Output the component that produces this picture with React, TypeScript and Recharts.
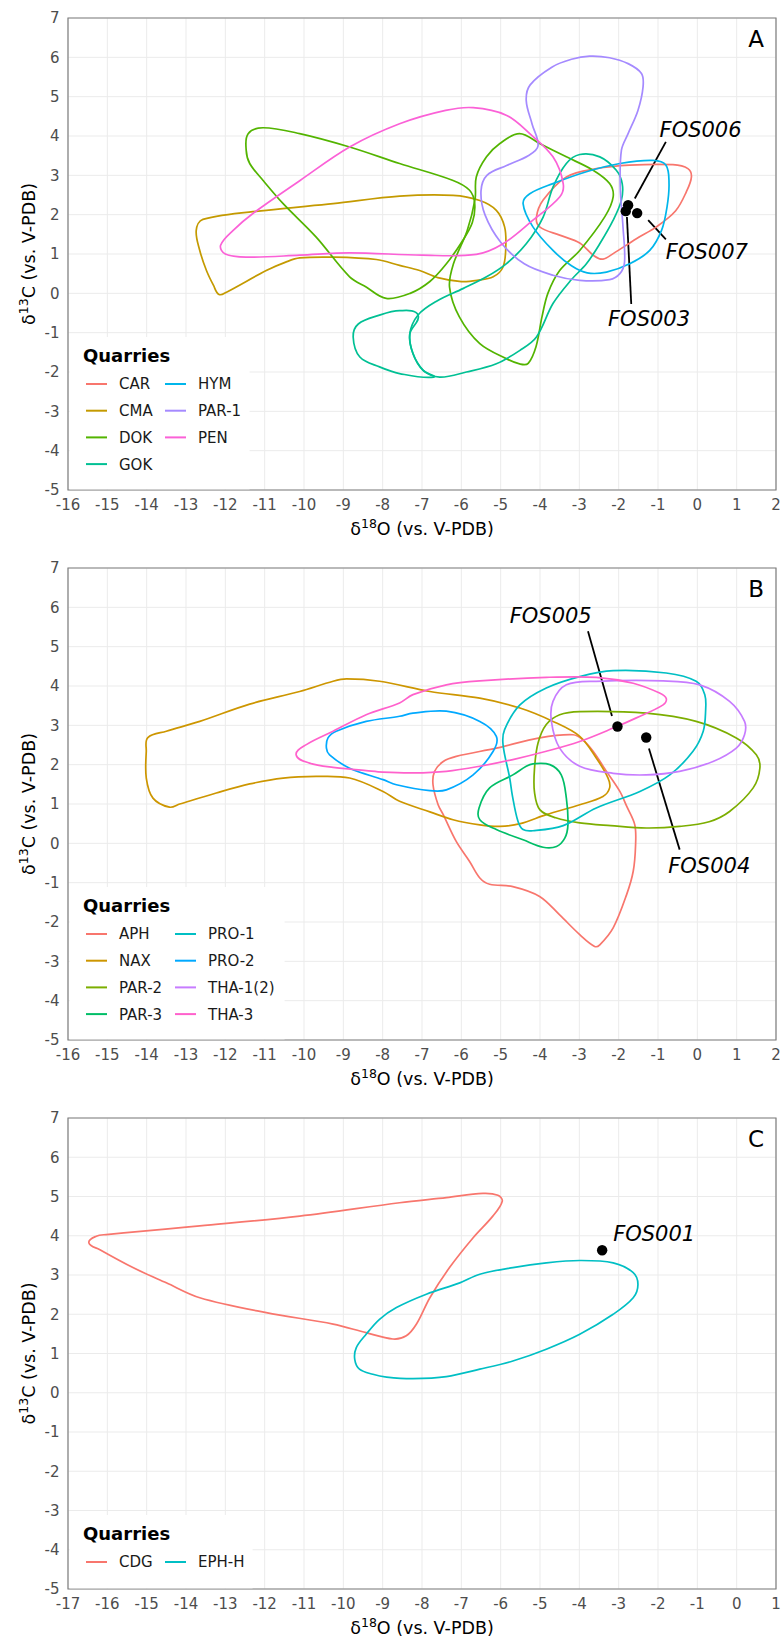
import React from 'react'
import {
  ScatterChart,
  Scatter,
  XAxis,
  YAxis,
  CartesianGrid,
  ReferenceLine,
  ReferenceArea,
} from 'recharts'

type Pt = [number, number]

// ---------- Panel A ----------
const A_NAMES = ['CAR', 'CMA', 'DOK', 'GOK', 'HYM', 'PAR-1', 'PEN']
const A_COLORS = ['#F8766D', '#C49A00', '#53B400', '#00C094', '#00B6EB', '#A58AFF', '#FB61D7']

const A_CAR: Pt[] = [
  [-4.09, 1.94], [-3.92, 2.37], [-3.33, 2.96], [-2.57, 3.17], [-1.72, 3.26], [-0.62, 3.27],
  [-0.24, 3.17], [-0.15, 2.96], [-0.28, 2.58], [-0.55, 2.1], [-1.04, 1.69], [-1.55, 1.39],
  [-2.14, 1.01], [-2.4, 0.87], [-2.62, 0.95], [-2.99, 1.28], [-3.5, 1.48], [-4.01, 1.69],
]
const A_CMA: Pt[] = [
  [-12.57, 1.88], [-10.96, 2.11], [-9.26, 2.28], [-7.57, 2.47], [-6.21, 2.49], [-5.53, 2.36],
  [-5.11, 2.11], [-4.9, 1.69], [-4.87, 1.18], [-4.94, 0.67], [-5.19, 0.42], [-5.6, 0.33],
  [-6.0, 0.3], [-6.6, 0.4], [-7.06, 0.58], [-7.57, 0.71], [-8.16, 0.86], [-9.26, 0.92],
  [-10.11, 0.9], [-10.45, 0.8], [-10.96, 0.58], [-11.97, 0.03], [-12.16, -0.03], [-12.3, 0.2],
  [-12.48, 0.58], [-12.65, 1.09], [-12.74, 1.6],
]
const A_DOK_W: Pt[] = [
  [-11.04, 4.21], [-10.11, 4.06], [-8.84, 3.72], [-7.57, 3.3], [-6.21, 2.87], [-5.79, 2.62],
  [-5.66, 2.28], [-5.72, 1.8], [-5.96, 1.35], [-6.38, 0.75], [-6.8, 0.3], [-7.3, 0.0],
  [-7.91, -0.13], [-8.42, 0.16], [-8.84, 0.42], [-9.69, 1.43], [-10.53, 2.28], [-11.04, 2.87],
  [-11.38, 3.3], [-11.47, 3.64], [-11.42, 4.06],
]
const A_DOK_E: Pt[] = [
  [-4.52, 4.06], [-4.01, 3.81], [-3.33, 3.47], [-2.65, 3.13], [-2.23, 2.79], [-2.14, 2.45],
  [-2.35, 1.95], [-2.99, 1.09], [-3.5, 0.58], [-3.8, 0.0], [-3.95, -0.6], [-4.1, -1.35],
  [-4.3, -1.78], [-4.5, -1.8], [-4.86, -1.66], [-5.53, -1.28], [-6.05, -0.6], [-6.3, 0.16],
  [-6.2, 0.75], [-5.85, 1.6], [-5.65, 2.4], [-5.62, 2.96], [-5.36, 3.47], [-5.02, 3.81],
]
const A_GOK_1: Pt[] = [
  [-2.99, 3.53], [-2.48, 3.47], [-2.06, 3.13], [-1.91, 2.79], [-1.93, 2.37], [-2.14, 1.86],
  [-2.48, 1.26], [-2.82, 0.75], [-3.2, 0.35], [-3.67, -0.26], [-4.09, -1.11], [-4.51, -1.45],
  [-5.11, -1.79], [-5.87, -2.0], [-6.55, -2.13], [-6.97, -1.96], [-7.23, -1.53], [-7.31, -1.03],
  [-7.1, -0.55], [-6.63, -0.2], [-5.96, 0.12], [-5.36, 0.42], [-4.86, 0.75], [-4.35, 1.26],
  [-3.92, 1.94], [-3.67, 2.7], [-3.33, 3.3],
]
const A_GOK_2: Pt[] = [
  [-8.75, -1.11], [-8.62, -0.78], [-8.1, -0.56], [-7.57, -0.44], [-7.1, -0.55], [-7.31, -1.03],
  [-7.23, -1.53], [-6.97, -1.96], [-6.7, -2.13], [-7.57, -2.04], [-8.08, -1.87], [-8.58, -1.62],
]
const A_HYM: Pt[] = [
  [-4.43, 2.28], [-4.26, 2.53], [-3.67, 2.79], [-2.82, 3.09], [-1.97, 3.3], [-1.13, 3.38],
  [-0.8, 3.26], [-0.72, 2.79], [-0.77, 2.2], [-0.91, 1.6], [-1.21, 1.09], [-1.72, 0.75],
  [-2.31, 0.54], [-2.8, 0.52], [-3.2, 0.7], [-3.67, 1.09], [-4.18, 1.69],
]
const A_PAR1: Pt[] = [
  [-2.74, 6.03], [-2.23, 5.99], [-1.76, 5.84], [-1.42, 5.59], [-1.38, 5.25], [-1.51, 4.65],
  [-1.76, 4.06], [-1.93, 3.64], [-1.96, 2.7], [-1.89, 1.69], [-1.85, 0.8], [-1.97, 0.5],
  [-2.23, 0.35], [-2.99, 0.33], [-3.67, 0.46], [-4.4, 0.75], [-5.0, 1.3], [-5.4, 2.0],
  [-5.5, 2.6], [-5.35, 3.0], [-4.85, 3.25], [-4.3, 3.5], [-4.05, 3.75], [-4.2, 4.3],
  [-4.35, 4.9], [-4.25, 5.3], [-3.7, 5.75], [-3.2, 5.95],
]
const A_PEN: Pt[] = [
  [-12.12, 1.22], [-11.8, 1.6], [-11.3, 2.03], [-10.1, 2.87], [-8.84, 3.72], [-7.57, 4.31],
  [-6.4, 4.65], [-5.7, 4.72], [-4.86, 4.53], [-4.26, 4.06], [-3.67, 3.47], [-3.41, 2.79],
  [-3.5, 2.45], [-4.18, 1.86], [-4.94, 1.26], [-5.62, 0.99], [-7.0, 0.97], [-8.84, 1.03],
  [-10.11, 0.97], [-11.47, 0.92], [-12.0, 1.0],
]
const A_SHAPES: Pt[][][] = [[A_CAR], [A_CMA], [A_DOK_W, A_DOK_E], [A_GOK_2, A_GOK_1], [A_HYM], [A_PAR1], [A_PEN]]

const A_SAMPLES = ['FOS006', 'FOS003', 'FOS007']
const A_SAMPLE_O = [-1.76, -1.82, -1.53]
const A_SAMPLE_C = [2.24, 2.09, 2.04]
const A_LABEL_O = [-0.96, -2.27, -0.8]
const A_LABEL_C = [4.17, -0.63, 1.06]
const A_LEADERS: Pt[][] = [
  [[-1.59, 2.41], [-0.8, 3.85]],
  [[-1.79, 1.94], [-1.68, -0.27]],
  [[-1.25, 1.86], [-0.8, 1.37]],
]

// ---------- Panel B ----------
const B_NAMES = ['APH', 'NAX', 'PAR-2', 'PAR-3', 'PRO-1', 'PRO-2', 'THA-1(2)', 'THA-3']
const B_COLORS = ['#F8766D', '#CD9600', '#7CAE00', '#00BE67', '#00BFC4', '#00A9FF', '#C77CFF', '#FF61CC']

const B_APH: Pt[] = [
  [-3.16, 2.76], [-4.01, 2.68], [-5.11, 2.42], [-6.13, 2.21], [-6.46, 2.08], [-6.68, 1.83],
  [-6.72, 1.49], [-6.59, 0.98], [-6.46, 0.73], [-6.13, 0.05], [-5.79, -0.46], [-5.53, -0.88],
  [-5.28, -1.04], [-4.69, -1.1], [-4.01, -1.35], [-3.5, -1.82], [-2.99, -2.32], [-2.61, -2.62],
  [-2.48, -2.58], [-2.14, -2.15], [-1.8, -1.31], [-1.63, -0.71], [-1.57, -0.04], [-1.59, 0.47],
  [-1.8, 0.95], [-1.97, 1.32], [-2.31, 1.83], [-2.65, 2.34], [-2.91, 2.63],
]
const B_NAX: Pt[] = [
  [-13.97, 2.69], [-13.5, 2.85], [-12.65, 3.1], [-11.38, 3.54], [-10.11, 3.86], [-9.26, 4.12],
  [-8.92, 4.18], [-8.08, 4.12], [-6.8, 3.86], [-5.53, 3.69], [-4.51, 3.44], [-3.67, 3.1],
  [-2.99, 2.72], [-2.57, 2.17], [-2.27, 1.66], [-2.23, 1.41], [-2.4, 1.19], [-2.99, 0.98],
  [-3.84, 0.73], [-4.5, 0.5], [-5.02, 0.43], [-5.53, 0.47], [-6.21, 0.6], [-6.8, 0.8],
  [-7.57, 1.07], [-7.99, 1.32], [-8.84, 1.66], [-9.69, 1.7], [-10.53, 1.66], [-11.38, 1.51],
  [-12.23, 1.28], [-13.16, 1.0], [-13.42, 0.92], [-13.84, 1.15], [-14.01, 1.66], [-14.01, 2.34],
]
const B_PAR2: Pt[] = [
  [-2.99, 3.35], [-1.3, 3.31], [-0.03, 3.1], [0.99, 2.68], [1.5, 2.25], [1.59, 1.91],
  [1.42, 1.41], [0.82, 0.81], [0.3, 0.55], [-0.45, 0.43], [-1.3, 0.39], [-2.2, 0.45],
  [-2.99, 0.52], [-3.6, 0.65], [-4.0, 0.85], [-4.14, 1.3], [-4.14, 1.9], [-4.05, 2.55],
  [-3.84, 3.02], [-3.5, 3.27],
]
const B_PAR3: Pt[] = [
  [-4.18, 2.02], [-3.75, 2.0], [-3.46, 1.74], [-3.33, 1.15], [-3.29, 0.47], [-3.37, 0.13],
  [-3.58, -0.08], [-3.92, -0.1], [-4.43, 0.09], [-5.11, 0.35], [-5.53, 0.6], [-5.55, 0.9],
  [-5.28, 1.41], [-4.69, 1.74], [-4.35, 1.96],
]
const B_PRO1: Pt[] = [
  [-2.14, 4.39], [-0.79, 4.33], [-0.03, 4.12], [0.19, 3.78], [0.21, 3.36], [0.15, 2.85],
  [-0.11, 2.34], [-0.7, 1.74], [-1.46, 1.32], [-2.57, 0.9], [-3.41, 0.45], [-4.18, 0.32],
  [-4.43, 0.35], [-4.56, 0.56], [-4.7, 1.2], [-4.77, 1.66], [-4.94, 2.51], [-4.9, 2.89],
  [-4.51, 3.52], [-3.84, 3.95], [-2.99, 4.24],
]
const B_PRO2: Pt[] = [
  [-9.43, 2.42], [-9.39, 2.68], [-9.18, 2.85], [-8.42, 3.1], [-7.57, 3.23], [-7.23, 3.31],
  [-6.38, 3.36], [-5.53, 3.1], [-5.11, 2.72], [-5.19, 2.34], [-5.7, 1.74], [-6.38, 1.36],
  [-6.8, 1.34], [-7.65, 1.49], [-7.99, 1.62], [-8.84, 1.91], [-9.35, 2.25],
]
const B_THA12: Pt[] = [
  [-3.33, 4.03], [-2.57, 4.12], [-0.87, 4.13], [0.06, 4.03], [0.82, 3.61], [1.2, 3.1],
  [1.2, 2.76], [0.99, 2.42], [0.4, 2.08], [-0.45, 1.83], [-1.3, 1.74], [-2.14, 1.78],
  [-2.99, 1.96], [-3.5, 2.42], [-3.71, 3.1], [-3.67, 3.61],
]
const B_THA3: Pt[] = [
  [-10.2, 2.25], [-9.94, 2.51], [-9.26, 2.85], [-8.42, 3.27], [-7.57, 3.57], [-7.23, 3.78],
  [-6.38, 4.03], [-5.53, 4.13], [-3.84, 4.22], [-2.57, 4.22], [-1.63, 4.07], [-0.96, 3.82],
  [-0.79, 3.68], [-0.87, 3.52], [-1.55, 3.19], [-2.14, 2.93], [-2.99, 2.59], [-3.84, 2.34],
  [-4.69, 2.13], [-5.53, 1.96], [-6.38, 1.83], [-7.23, 1.79], [-8.0, 1.81], [-8.42, 1.85],
  [-9.26, 1.93], [-9.86, 2.04],
]
const B_SHAPES: Pt[][][] = [[B_APH], [B_NAX], [B_PAR2], [B_PAR3], [B_PRO1], [B_PRO2], [B_THA12], [B_THA3]]

const B_SAMPLES = ['FOS005', 'FOS004']
const B_SAMPLE_O = [-2.03, -1.3]
const B_SAMPLE_C = [2.97, 2.69]
const B_LABEL_O = [-4.77, -0.74]
const B_LABEL_C = [5.79, -0.57]
const B_LEADERS: Pt[][] = [
  [[-2.17, 3.24], [-2.78, 5.39]],
  [[-1.23, 2.41], [-0.45, -0.16]],
]

// ---------- Panel C ----------
const C_NAMES = ['CDG', 'EPH-H']
const C_COLORS = ['#F8766D', '#00BFC4']

const C_CDG: Pt[] = [
  [-16.47, 3.82], [-16.28, 3.99], [-16.03, 4.03], [-13.65, 4.25], [-11.11, 4.5], [-8.57, 4.84],
  [-7.38, 4.97], [-6.45, 5.08], [-6.07, 5.03], [-5.96, 4.88], [-6.2, 4.5], [-6.7, 3.95],
  [-7.3, 3.19], [-7.8, 2.42], [-8.14, 1.75], [-8.4, 1.45], [-8.74, 1.37], [-9.42, 1.53],
  [-10.26, 1.75], [-11.96, 2.04], [-13.65, 2.42], [-14.5, 2.8], [-15.35, 3.19], [-16.2, 3.65],
]
const C_EPH: Pt[] = [
  [-3.99, 3.37], [-3.14, 3.31], [-2.63, 3.06], [-2.51, 2.76], [-2.63, 2.42], [-3.14, 2.0],
  [-3.99, 1.49], [-4.84, 1.11], [-5.69, 0.81], [-6.53, 0.6], [-7.38, 0.41], [-8.23, 0.36],
  [-8.9, 0.4], [-9.25, 0.47], [-9.59, 0.6], [-9.71, 0.85], [-9.67, 1.15], [-9.42, 1.49],
  [-9.08, 1.87], [-8.65, 2.17], [-7.89, 2.51], [-7.04, 2.8], [-6.53, 3.02], [-5.69, 3.19],
  [-4.84, 3.31],
]
const C_SHAPES: Pt[][][] = [[C_CDG], [C_EPH]]

const C_SAMPLES = ['FOS001']
const C_SAMPLE_O = [-3.42]
const C_SAMPLE_C = [3.63]
const C_LABEL_O = [-3.14]
const C_LABEL_C = [4.07]
const C_LEADERS: Pt[][] = []

const Y_TICKS = [-5, -4, -3, -2, -1, 0, 1, 2, 3, 4, 5, 6, 7]
const AB_X_TICKS = [-16, -15, -14, -13, -12, -11, -10, -9, -8, -7, -6, -5, -4, -3, -2, -1, 0, 1, 2]
const C_X_TICKS = [-17, -16, -15, -14, -13, -12, -11, -10, -9, -8, -7, -6, -5, -4, -3, -2, -1, 0, 1]

const FONT = 'DejaVu Sans'
const W = 782
const PLOT_TOP = 18
const Y_AXIS_W = 68

// smooth closed curve through the points (tangent scaled by segment length)
function smoothClosed(context: any) {
  let pts: number[][] = []
  return {
    areaStart() {},
    areaEnd() {},
    lineStart() {
      pts = []
    },
    point(x: number, y: number) {
      pts.push([+x, +y])
    },
    lineEnd() {
      const n = pts.length
      if (!n) return
      const tan = (i: number) => {
        const a = pts[(i - 1 + n) % n]
        const b = pts[(i + 1) % n]
        const dx = b[0] - a[0]
        const dy = b[1] - a[1]
        const l = Math.hypot(dx, dy) || 1
        return [dx / l, dy / l]
      }
      context.moveTo(pts[0][0], pts[0][1])
      for (let i = 0; i < n; i++) {
        const p1 = pts[i]
        const p2 = pts[(i + 1) % n]
        const d = Math.hypot(p2[0] - p1[0], p2[1] - p1[1]) / 3
        const t1 = tan(i)
        const t2 = tan((i + 1) % n)
        context.bezierCurveTo(
          p1[0] + t1[0] * d,
          p1[1] + t1[1] * d,
          p2[0] - t2[0] * d,
          p2[1] - t2[1] * d,
          p2[0],
          p2[1]
        )
      }
      context.closePath()
    },
  }
}

interface PanelProps {
  height: number
  xAxisH: number
  xTicks: number[]
  names: string[]
  colors: string[]
  shapes: Pt[][][]
  samples: string[]
  sampleO: number[]
  sampleC: number[]
  labelO: number[]
  labelC: number[]
  leaders: Pt[][]
  letter: string
  legendTop: number
  legendW: number
  legendRows: number
  colStep: number
}

function Panel(p: PanelProps) {
  const plotBottom = p.height - p.xAxisH
  const xMin = p.xTicks[0]
  const xMax = p.xTicks[p.xTicks.length - 1]
  const plotCx = (Y_AXIS_W + W - 6) / 2
  const plotCy = (PLOT_TOP + plotBottom) / 2

  const dots = p.samples.map((s, i) => ({ x: p.sampleO[i], y: p.sampleC[i], name: s }))
  const labels = p.samples.map((s, i) => ({ x: p.labelO[i], y: p.labelC[i], name: s }))

  return (
    <div style={{ position: 'relative', width: W, height: p.height }}>
      <ScatterChart
        width={W}
        height={p.height}
        margin={{ top: PLOT_TOP, right: 6, bottom: 0, left: 0 }}
      >
        <CartesianGrid stroke="#EBEBEB" strokeWidth={1} />
        <XAxis
          type="number"
          dataKey="x"
          domain={[xMin, xMax]}
          ticks={p.xTicks}
          interval={0}
          allowDataOverflow
          height={p.xAxisH}
          axisLine={false}
          tickLine={false}
          tick={({ x, payload }: any) => (
            <text
              x={x}
              y={plotBottom + 19.5}
              textAnchor="middle"
              fontSize={15}
              fontFamily={FONT}
              fill="#4D4D4D"
            >
              {payload.value}
            </text>
          )}
        />
        <YAxis
          type="number"
          dataKey="y"
          domain={[-5, 7]}
          ticks={Y_TICKS}
          interval={0}
          allowDataOverflow
          width={Y_AXIS_W}
          axisLine={false}
          tickLine={false}
          tick={({ y, payload }: any) => (
            <text
              x={59.5}
              y={y + 5.3}
              textAnchor="end"
              fontSize={15}
              fontFamily={FONT}
              fill="#4D4D4D"
            >
              {payload.value}
            </text>
          )}
        />
        {p.shapes.map((loops, si) =>
          loops.map((loop, li) => (
            <Scatter
              key={`${p.names[si]}-${li}`}
              data={loop.map(([x, y]) => ({ x, y }))}
              line={{ stroke: p.colors[si], strokeWidth: 1.7 }}
              lineType="joint"
              lineJointType={smoothClosed as any}
              shape={() => <g />}
              fill={p.colors[si]}
              isAnimationActive={false}
            />
          ))
        )}
        <ReferenceArea
          x1={xMin}
          x2={xMax}
          y1={-5}
          y2={7}
          fill="none"
          fillOpacity={0}
          stroke="#7F7F7F"
          strokeWidth={1.2}
          ifOverflow="visible"
        />
        {p.leaders.map((seg, i) => (
          <ReferenceLine
            key={i}
            segment={[
              { x: seg[0][0], y: seg[0][1] },
              { x: seg[1][0], y: seg[1][1] },
            ]}
            stroke="#000"
            strokeWidth={1.8}
            ifOverflow="visible"
          />
        ))}
        <Scatter
          data={dots}
          isAnimationActive={false}
          shape={(s: any) => <circle cx={s.cx} cy={s.cy} r={5.2} fill="#000" />}
        />
        <Scatter
          data={labels}
          isAnimationActive={false}
          shape={(s: any) => (
            <text
              x={s.cx}
              y={s.cy}
              dy="0.36em"
              fontSize={21}
              fontStyle="italic"
              fontFamily={FONT}
              fill="#000"
            >
              {s.payload.name}
            </text>
          )}
        />
      </ScatterChart>

      <svg
        width={W}
        height={p.height}
        style={{ position: 'absolute', left: 0, top: 0, pointerEvents: 'none' }}
        fontFamily={FONT}
      >
        <rect
          x={69.6}
          y={p.legendTop}
          width={p.legendW}
          height={plotBottom - 0.7 - p.legendTop}
          fill="#fff"
        />
        <text x={83} y={p.legendTop + 24.5} fontSize={18} fontWeight="bold" fill="#000">
          Quarries
        </text>
        {p.names.map((n, i) => {
          const col = Math.floor(i / p.legendRows)
          const row = i % p.legendRows
          const cy = p.legendTop + 47 + row * 26.7
          const dx = col * p.colStep
          return (
            <g key={n}>
              <line x1={86 + dx} x2={107 + dx} y1={cy} y2={cy} stroke={p.colors[i]} strokeWidth={2} />
              <text x={119 + dx} y={cy + 5.4} fontSize={15} fill="#1A1A1A">
                {n}
              </text>
            </g>
          )
        })}
        <text x={764} y={47} textAnchor="end" fontSize={23} fill="#000">
          {p.letter}
        </text>
        <text x={plotCx} y={plotBottom + 45} textAnchor="middle" fontSize={17.5} fill="#000">
          δ
          <tspan dy={-7} fontSize={12.5}>
            18
          </tspan>
          <tspan dy={7}>O (vs. V-PDB)</tspan>
        </text>
        <text
          x={35}
          y={plotCy}
          transform={`rotate(-90 35 ${plotCy})`}
          textAnchor="middle"
          fontSize={17.5}
          fill="#000"
        >
          δ
          <tspan dy={-7} fontSize={12.5}>
            13
          </tspan>
          <tspan dy={7}>C (vs. V-PDB)</tspan>
        </text>
      </svg>
    </div>
  )
}

export default function App() {
  return (
    <div style={{ width: W, background: '#fff' }}>
      <style>{'body{margin:0;background:#fff}'}</style>
      <Panel
        height={550}
        xAxisH={60}
        xTicks={AB_X_TICKS}
        names={A_NAMES}
        colors={A_COLORS}
        shapes={A_SHAPES}
        samples={A_SAMPLES}
        sampleO={A_SAMPLE_O}
        sampleC={A_SAMPLE_C}
        labelO={A_LABEL_O}
        labelC={A_LABEL_C}
        leaders={A_LEADERS}
        letter="A"
        legendTop={337}
        legendW={180}
        legendRows={4}
        colStep={79}
      />
      <Panel
        height={550}
        xAxisH={60}
        xTicks={AB_X_TICKS}
        names={B_NAMES}
        colors={B_COLORS}
        shapes={B_SHAPES}
        samples={B_SAMPLES}
        sampleO={B_SAMPLE_O}
        sampleC={B_SAMPLE_C}
        labelO={B_LABEL_O}
        labelC={B_LABEL_C}
        leaders={B_LEADERS}
        letter="B"
        legendTop={337}
        legendW={215}
        legendRows={4}
        colStep={89}
      />
      <Panel
        height={541}
        xAxisH={52}
        xTicks={C_X_TICKS}
        names={C_NAMES}
        colors={C_COLORS}
        shapes={C_SHAPES}
        samples={C_SAMPLES}
        sampleO={C_SAMPLE_O}
        sampleC={C_SAMPLE_C}
        labelO={C_LABEL_O}
        labelC={C_LABEL_C}
        leaders={C_LEADERS}
        letter="C"
        legendTop={415}
        legendW={183}
        legendRows={1}
        colStep={79}
      />
    </div>
  )
}
